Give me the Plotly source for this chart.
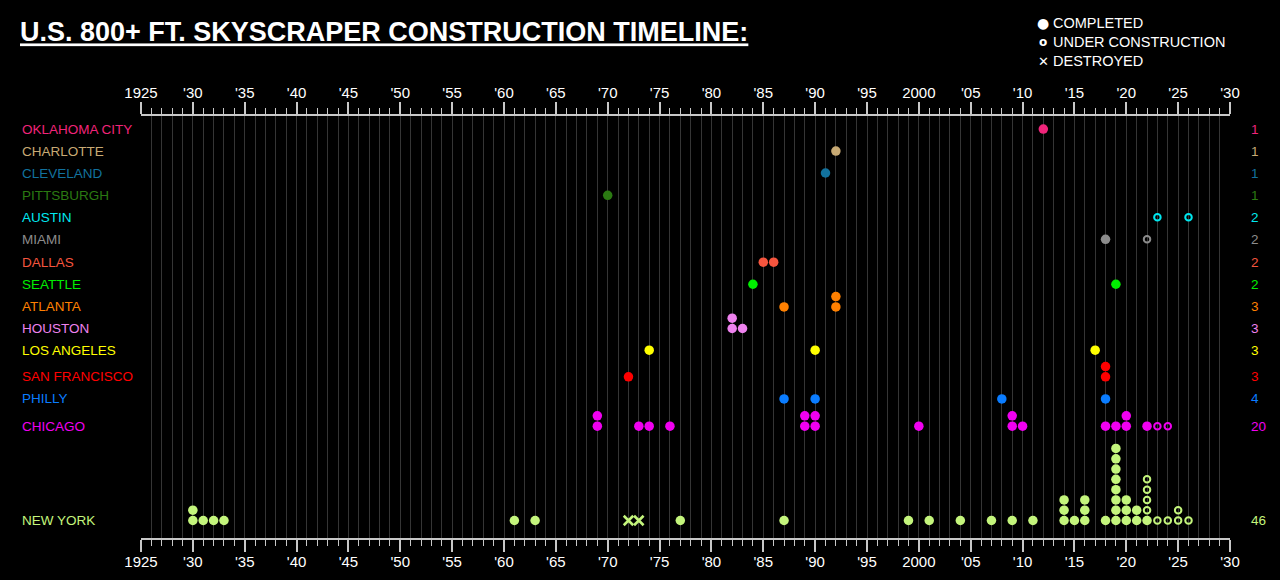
import plotly.graph_objects as go

# ---- data -------------------------------------------------------------
cities = ["OKLAHOMA CITY", "CHARLOTTE", "CLEVELAND", "PITTSBURGH", "AUSTIN",
          "MIAMI", "DALLAS", "SEATTLE", "ATLANTA", "HOUSTON", "LOS ANGELES",
          "SAN FRANCISCO", "PHILLY", "CHICAGO", "NEW YORK"]

city_colors = ["#F0247A", "#C8AA74", "#12729E", "#2B7A12", "#00E8F0",
               "#8C8C8C", "#F5553E", "#00EE00", "#FF8000", "#EE82EE",
               "#FFFF00", "#FF0000", "#0A7CFF", "#F000F0", "#C4F57C"]

# one entry per tower, year of completion
completed_years = [
    [2012],
    [1992],
    [1991],
    [1970],
    [],
    [2018],
    [1985, 1986],
    [1984, 2019],
    [1987, 1992, 1992],
    [1982, 1982, 1983],
    [1974, 1990, 2017],
    [1972, 2018, 2018],
    [1987, 1990, 2008, 2018],
    [1969, 1969, 1973, 1974, 1976, 1989, 1989, 1990, 1990, 2000, 2009, 2009,
     2010, 2018, 2019, 2020, 2020, 2022],
    [1930, 1930, 1931, 1932, 1933, 1961, 1963, 1977, 1987, 1999, 2001, 2004,
     2007, 2009, 2011, 2014, 2014, 2014, 2015, 2016, 2016, 2016, 2018,
     2019, 2019, 2019, 2019, 2019, 2019, 2019, 2019, 2020, 2020, 2020,
     2021, 2021, 2022],
]

# one entry per tower, expected completion year
construction_years = [
    [], [], [], [],
    [2023, 2026],
    [2022],
    [], [], [], [], [], [], [],
    [2023, 2024],
    [2022, 2022, 2022, 2022, 2023, 2024, 2025, 2025, 2026],
]

destroyed_years = [[]] * 14 + [[1972, 1973]]

tick_years = list(range(1925, 2031, 5))
tick_labels = ["1925", "'30", "'35", "'40", "'45", "'50", "'55", "'60", "'65",
               "'70", "'75", "'80", "'85", "'90", "'95", "2000", "'05", "'10",
               "'15", "'20", "'25", "'30"]

# ---- layout settings ----------------------------------------------------
W, H = 1280, 580
ML, MR, MT, MB = 141, 50, 116, 42
PW, PH = W - ML - MR, H - MT - MB
# vertical level of each city row, in dot-stack units above the bottom axis
row_level = [39.74, 37.6, 35.47, 33.3, 31.17, 29.03, 26.8, 24.66, 22.46,
             20.36, 18.25, 15.66, 13.52, 10.87, 1.7]
Y_TOP = PH / 10.29
AXIS_COLOR = "#c8c8c8"
GRID_COLOR = "#353535"
FONT = "Liberation Sans, Arial, sans-serif"


def px_x(p):
    return (p - ML) / PW


def px_y(p):
    return (H - MB - p) / PH


def stacked(years, base, start=None):
    counts = dict(start or {})
    xs, ys = [], []
    for yr in sorted(years):
        k = counts.get(yr, 0)
        xs.append(yr)
        ys.append(base + k)
        counts[yr] = k + 1
    return xs, ys, counts


fig = go.Figure()
annotations = []

for i, city in enumerate(cities):
    col = city_colors[i]
    base = row_level[i]
    xs, ys, used = stacked(completed_years[i], base)
    if xs:
        fig.add_trace(go.Scatter(x=xs, y=ys, mode="markers", hoverinfo="skip",
                                 marker=dict(symbol="circle", size=9.5, color=col),
                                 showlegend=False))
    xs, ys, _ = stacked(construction_years[i], base, used)
    if xs:
        fig.add_trace(go.Scatter(x=xs, y=ys, mode="markers", hoverinfo="skip",
                                 marker=dict(symbol="circle-open", size=6.5, color=col,
                                             line=dict(width=2, color=col)),
                                 showlegend=False))
    if destroyed_years[i]:
        fig.add_trace(go.Scatter(x=destroyed_years[i], y=[base] * len(destroyed_years[i]),
                                 mode="markers", hoverinfo="skip",
                                 marker=dict(symbol="x-thin-open", size=9.5, color=col,
                                             line=dict(width=2.6, color=col)),
                                 showlegend=False))
    # city name on the left, tower count on the right
    annotations.append(dict(x=px_x(20), xref="paper", y=base, yref="y", text=city,
                            xanchor="left", yanchor="middle", showarrow=False,
                            font=dict(size=13.5, color=col, family=FONT)))
    n = len(completed_years[i]) + len(construction_years[i])
    annotations.append(dict(x=px_x(1249), xref="paper", y=base, yref="y", text=str(n),
                            xanchor="left", yanchor="middle", showarrow=False,
                            font=dict(size=13.5, color=col, family=FONT)))

# dummy trace so the top axis is drawn
fig.add_trace(go.Scatter(x=[tick_years[0], tick_years[-1]], y=[None, None], xaxis="x2",
                         mode="markers", hoverinfo="skip", showlegend=False))

# key, top right
key = [("●", "COMPLETED", 23, 14), ("<b>o</b>", "UNDER CONSTRUCTION", 42, 12),
       ("<b>✕</b>", "DESTROYED", 61, 13)]
for sym, label, ypx, sz in key:
    annotations.append(dict(x=px_x(1043), xref="paper", y=px_y(ypx), yref="paper",
                            text=sym, xanchor="center", yanchor="middle", showarrow=False,
                            font=dict(size=sz, color="white", family="DejaVu Sans")))
    annotations.append(dict(x=px_x(1051), xref="paper", y=px_y(ypx), yref="paper",
                            text=label, xanchor="left", yanchor="middle", showarrow=False,
                            font=dict(size=14.5, color="white", family=FONT)))

axis_common = dict(
    range=[tick_years[0], tick_years[-1]], tickmode="array", tickvals=tick_years,
    ticktext=tick_labels, ticks="outside", ticklen=12, tickwidth=2,
    tickcolor=AXIS_COLOR, showline=True, linecolor=AXIS_COLOR, linewidth=2,
    tickfont=dict(size=15, color="white", family=FONT), zeroline=False,
    automargin=False, fixedrange=True,
)

fig.update_layout(
    width=W, height=H,
    paper_bgcolor="black", plot_bgcolor="black",
    margin=dict(l=ML, r=MR, t=MT, b=MB, pad=0),
    title=dict(text="<b><u>U.S. 800+ FT. SKYSCRAPER CONSTRUCTION TIMELINE:</u></b>",
               x=20 / W, xanchor="left", xref="container",
               y=1 - 32 / H, yanchor="middle", yref="container",
               font=dict(size=27, color="white", family=FONT)),
    xaxis=dict(**axis_common, side="bottom", showgrid=True, gridcolor=GRID_COLOR,
               gridwidth=1, ticklabelstandoff=-3,
               minor=dict(tickmode="linear", tick0=1925, dtick=1, ticks="outside",
                          ticklen=6, tickwidth=1, tickcolor=AXIS_COLOR,
                          showgrid=True, gridcolor=GRID_COLOR, gridwidth=1)),
    xaxis2=dict(**axis_common, side="top", overlaying="x", matches="x",
                showgrid=False, ticklabelstandoff=-2,
                minor=dict(tickmode="linear", tick0=1925, dtick=1, ticks="outside",
                           ticklen=6, tickwidth=1, tickcolor=AXIS_COLOR,
                           showgrid=False)),
    yaxis=dict(range=[0, Y_TOP], visible=False, fixedrange=True, automargin=False),
    annotations=annotations,
    showlegend=False,
)

# drop the browser's default page margin so the chart fills the window
fig.write_html("out.html", config={"displayModeBar": False},
               post_script="document.body.style.margin='0';"
                           "document.body.style.background='black';")
